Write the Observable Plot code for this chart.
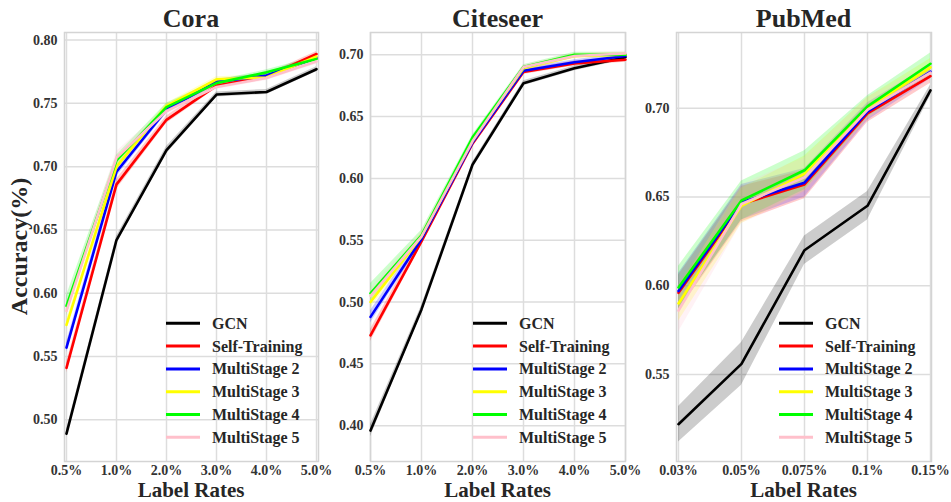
<!DOCTYPE html>
<html>
<head>
<meta charset="utf-8">
<script src="https://cdn.jsdelivr.net/npm/d3@7"></script>
<script src="https://cdn.jsdelivr.net/npm/@observablehq/plot@0.6"></script>
<style>
  html, body { margin: 0; padding: 0; background: #fff; }
  #root { position: relative; width: 951px; height: 502px; background: #fff; overflow: hidden;
          font-family: "Liberation Serif", "Times New Roman", serif; font-weight: bold; }
  .panel { position: absolute; top: 0; }
  .panel svg { overflow: visible; }
  .panel svg text { font-family: "Liberation Serif", "Times New Roman", serif; font-weight: bold; fill: #333; }
  #overlay { position: absolute; left: 0; top: 0; pointer-events: none; }
  #overlay text { font-family: "Liberation Serif", "Times New Roman", serif; font-weight: bold; fill: #262626; }
</style>
</head>
<body>
<div id="root"></div>
<script>
// ---- series ----
const seriesNames = ["GCN", "Self-Training", "MultiStage 2", "MultiStage 3", "MultiStage 4", "MultiStage 5"];
const seriesColors = ["#000000", "#ff0000", "#0000ff", "#ffff00", "#00ff00", "#ffc0cb"];

// ---- Cora ----
const coraRates = ["0.5%", "1.0%", "2.0%", "3.0%", "4.0%", "5.0%"];
const coraTicks = [0.50, 0.55, 0.60, 0.65, 0.70, 0.75, 0.80];
const coraGCN   = [0.489, 0.642, 0.713, 0.757, 0.759, 0.777];
const coraST    = [0.541, 0.686, 0.737, 0.764, 0.771, 0.789];
const coraMS2   = [0.557, 0.696, 0.745, 0.767, 0.772, 0.786];
const coraMS3   = [0.575, 0.700, 0.748, 0.769, 0.7705, 0.787];
const coraMS4   = [0.590, 0.705, 0.747, 0.766, 0.7745, 0.785];
const coraMS5   = [0.586, 0.707, 0.744, 0.763, 0.770, 0.783];
const coraStdGCN = [0.003, 0.003, 0.003, 0.002, 0.002, 0.002];
const coraStdST  = [0.004, 0.004, 0.003, 0.002, 0.002, 0.002];
const coraStdMS2 = [0.004, 0.004, 0.003, 0.002, 0.002, 0.002];
const coraStdMS3 = [0.004, 0.003, 0.002, 0.002, 0.002, 0.002];
const coraStdMS4 = [0.008, 0.004, 0.003, 0.002, 0.002, 0.002];
const coraStdMS5 = [0.005, 0.005, 0.003, 0.002, 0.002, 0.002];

// ---- Citeseer ----
const citeRates = ["0.5%", "1.0%", "2.0%", "3.0%", "4.0%", "5.0%"];
const citeTicks = [0.40, 0.45, 0.50, 0.55, 0.60, 0.65, 0.70];
const citeGCN   = [0.396, 0.494, 0.611, 0.677, 0.689, 0.698];
const citeST    = [0.473, 0.549, 0.628, 0.686, 0.693, 0.696];
const citeMS2   = [0.488, 0.551, 0.629, 0.687, 0.694, 0.699];
const citeMS3   = [0.500, 0.553, 0.631, 0.689, 0.699, 0.700];
const citeMS4   = [0.507, 0.554, 0.633, 0.690, 0.700, 0.700];
const citeMS5   = [0.505, 0.553, 0.630, 0.690, 0.699, 0.701];
const citeStdGCN = [0.005, 0.003, 0.002, 0.002, 0.002, 0.002];
const citeStdST  = [0.005, 0.003, 0.002, 0.002, 0.002, 0.002];
const citeStdMS2 = [0.005, 0.003, 0.002, 0.002, 0.002, 0.002];
const citeStdMS3 = [0.005, 0.003, 0.002, 0.002, 0.002, 0.002];
const citeStdMS4 = [0.008, 0.004, 0.002, 0.002, 0.002, 0.002];
const citeStdMS5 = [0.006, 0.004, 0.002, 0.002, 0.002, 0.002];

// ---- PubMed ----
const pubRates = ["0.03%", "0.05%", "0.075%", "0.1%", "0.15%"];
const pubTicks = [0.55, 0.60, 0.65, 0.70];
const pubGCN   = [0.522, 0.556, 0.620, 0.645, 0.710];
const pubST    = [0.596, 0.646, 0.657, 0.697, 0.718];
const pubMS2   = [0.597, 0.647, 0.658, 0.698, 0.7205];
const pubMS3   = [0.590, 0.645, 0.663, 0.700, 0.723];
const pubMS4   = [0.599, 0.648, 0.665, 0.701, 0.725];
const pubMS5   = [0.586, 0.646, 0.661, 0.699, 0.720];
const pubStdGCN = [0.010, 0.012, 0.008, 0.008, 0.003];
const pubStdST  = [0.010, 0.010, 0.008, 0.005, 0.004];
const pubStdMS2 = [0.010, 0.010, 0.008, 0.005, 0.004];
const pubStdMS3 = [0.010, 0.010, 0.010, 0.006, 0.005];
const pubStdMS4 = [0.012, 0.011, 0.011, 0.006, 0.006];
const pubStdMS5 = [0.012, 0.011, 0.011, 0.007, 0.005];

const panels = [
  { title: "Cora", rates: coraRates, ticks: coraTicks, yDomain: [0.467, 0.806],
    means: [coraGCN, coraST, coraMS2, coraMS3, coraMS4, coraMS5],
    stds: [coraStdGCN, coraStdST, coraStdMS2, coraStdMS3, coraStdMS4, coraStdMS5],
    left: 0, width: 320, marginLeft: 64, marginRight: 2 },
  { title: "Citeseer", rates: citeRates, ticks: citeTicks, yDomain: [0.371, 0.718],
    means: [citeGCN, citeST, citeMS2, citeMS3, citeMS4, citeMS5],
    stds: [citeStdGCN, citeStdST, citeStdMS2, citeStdMS3, citeStdMS4, citeStdMS5],
    left: 320, width: 307, marginLeft: 50, marginRight: 2 },
  { title: "PubMed", rates: pubRates, ticks: pubTicks, yDomain: [0.501, 0.7426],
    means: [pubGCN, pubST, pubMS2, pubMS3, pubMS4, pubMS5],
    stds: [pubStdGCN, pubStdST, pubStdMS2, pubStdMS3, pubStdMS4, pubStdMS5],
    left: 627, width: 324, marginLeft: 49, marginRight: 20 }
];

const H = 502, MT = 32, MB = 41;
const root = document.getElementById("root");

panels.forEach(p => {
  const rows = [];
  p.means.forEach((arr, si) => {
    arr.forEach((v, i) => {
      rows.push({ series: seriesNames[si], rate: p.rates[i], v, lo: v - p.stds[si][i], hi: v + p.stds[si][i] });
    });
  });
  const marks = [
    Plot.gridX(p.rates, { stroke: "#dddddd", strokeOpacity: 1, strokeWidth: 1.5 }),
    Plot.gridY(p.ticks, { stroke: "#dddddd", strokeOpacity: 1, strokeWidth: 1.5 }),
    Plot.frame({ stroke: "#d4d4d4", strokeWidth: 1.5 })
  ];
  seriesNames.forEach((name, si) => {
    marks.push(Plot.areaY(rows.filter(d => d.series === name),
      { x: "rate", y1: "lo", y2: "hi", fill: seriesColors[si], fillOpacity: 0.2 }));
  });
  seriesNames.forEach((name, si) => {
    marks.push(Plot.line(rows.filter(d => d.series === name),
      { x: "rate", y: "v", stroke: seriesColors[si], strokeWidth: 2.6 }));
  });
  const chart = Plot.plot({
    width: p.width, height: H,
    marginTop: MT, marginBottom: MB, marginLeft: p.marginLeft, marginRight: p.marginRight,
    style: { fontFamily: "Liberation Serif, serif", fontSize: "14px", fontWeight: "bold", background: "transparent", overflow: "visible" },
    x: { type: "point", domain: p.rates, padding: 0, label: null, tickSize: 0, tickPadding: 4 },
    y: { domain: p.yDomain, ticks: p.ticks, tickFormat: d3.format(".2f"), tickSize: 0, tickPadding: 7, label: null },
    marks
  });
  const div = document.createElement("div");
  div.className = "panel";
  div.style.left = p.left + "px";
  div.appendChild(chart);
  root.appendChild(div);
  p.frameL = p.left + p.marginLeft;
  p.frameR = p.left + p.width - p.marginRight;
});

// overlay: titles, axis labels, legends
const ns = "http://www.w3.org/2000/svg";
const ov = document.createElementNS(ns, "svg");
ov.setAttribute("id", "overlay");
ov.setAttribute("width", 951);
ov.setAttribute("height", 502);
function txt(x, y, s, size, anchor, extra) {
  const t = document.createElementNS(ns, "text");
  t.setAttribute("x", x); t.setAttribute("y", y);
  t.setAttribute("font-size", size);
  t.setAttribute("text-anchor", anchor || "middle");
  if (extra) t.setAttribute("transform", extra);
  t.textContent = s;
  ov.appendChild(t);
  return t;
}
panels.forEach(p => {
  const cx = (p.frameL + p.frameR) / 2;
  txt(cx, 27, p.title, 26);
  txt(cx, 497, "Label Rates", 21);
  const R = p.frameR;
  seriesNames.forEach((name, i) => {
    const yc = 323.3 + i * 22.8;
    const l = document.createElementNS(ns, "line");
    l.setAttribute("x1", R - 152); l.setAttribute("x2", R - 118);
    l.setAttribute("y1", yc); l.setAttribute("y2", yc);
    l.setAttribute("stroke", seriesColors[i]);
    l.setAttribute("stroke-width", 3);
    ov.appendChild(l);
    txt(R - 106, yc + 5.5, name, 16, "start");
  });
});
txt(0, 0, "Accuracy(%)", 24, "middle", "translate(27,246.5) rotate(-90)");
root.appendChild(ov);
</script>
</body>
</html>
